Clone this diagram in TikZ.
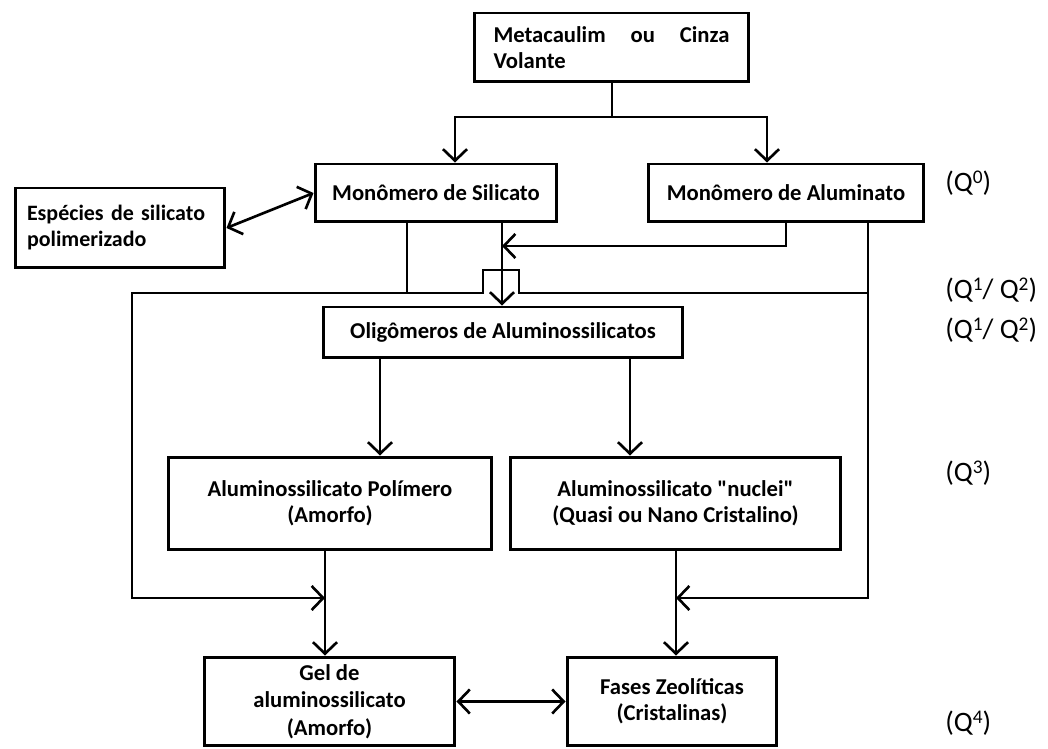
\documentclass[tikz,border=0pt]{standalone}
\usepackage{fontspec}
\setmainfont{Carlito}[Ligatures=TeXOff]
\usetikzlibrary{arrows.meta}
\newcommand{\qsup}[1]{\raisebox{0.62ex}{\fontsize{11}{11}\selectfont #1}}
\begin{document}
\begin{tikzpicture}[x=0.02cm,y=-0.02cm,
  box/.style={draw, line width=1.7pt, inner sep=0pt, align=center,
    font=\bfseries\fontsize{12.9}{14.8}\selectfont},
  link/.style={line width=1.5pt},
  tip/.tip={Straight Barb[length=2.3mm,width=4.8mm]},
  arr/.style={link, -tip},
  darr/.style={link, tip-tip},
  qlab/.style={anchor=west, inner sep=0pt, font=\fontsize{16}{18}\selectfont}]
\useasboundingbox (0,0) rectangle (1048,749);

% boxes
\node[box, minimum width=5.5cm, minimum height=1.38cm, text width=4.72cm, align=left]
  (meta) at (611.5,47.5) {\hbox to 4.72cm{Metacaulim\hfill ou\hfill Cinza}\\Volante};
\node[box, minimum width=4.84cm, minimum height=1.16cm] (sil) at (436,193) {Monômero de Silicato};
\node[box, minimum width=5.52cm, minimum height=1.16cm] (alu) at (786,193) {Monômero de Aluminato};
\node[box, minimum width=4.2cm, minimum height=1.6cm, text width=3.72cm, align=left,
  font=\bfseries\fontsize{12.5}{14.8}\selectfont]
  (esp) at (120,228) {\hbox{Espécies de silicato}\\polimerizado};
\node[box, minimum width=7.2cm, minimum height=1.02cm] (oli) at (503,332.5) {Oligômeros de Aluminossilicatos};
\node[box, minimum width=6.48cm, minimum height=1.86cm] (pol) at (330,503.5) {Aluminossilicato Polímero\\(Amorfo)};
\node[box, minimum width=6.62cm, minimum height=1.86cm] (nuc) at (675.5,503.5) {Aluminossilicato "nuclei"\\(Quasi ou Nano Cristalino)};
\node[box, minimum width=5.02cm, minimum height=1.78cm, font=\bfseries\fontsize{12.9}{15.6}\selectfont] (gel) at (329.5,701.5) {Gel de\\aluminossilicato\\(Amorfo)};
\node[box, minimum width=4.2cm, minimum height=1.78cm] (fas) at (672,701.5) {Fases Zeolíticas\\(Cristalinas)};

% Q labels
\node[qlab] (q0) at (945,183) {(Q\qsup{0})};
\node[qlab] (q12a) at (945,290) {(Q\qsup{1}/ Q\qsup{2})};
\node[qlab] (q12b) at (945,330) {(Q\qsup{1}/ Q\qsup{2})};
\node[qlab] (q3) at (945,473) {(Q\qsup{3})};
\node[qlab] (q4) at (945,723) {(Q\qsup{4})};

% junction coordinates
\coordinate (j1) at (612,117);
\coordinate (j1l) at (455,117);
\coordinate (j1r) at (767,117);
\coordinate (s1) at (407,293);
\coordinate (L1) at (132,293);
\coordinate (L2) at (132,598);
\coordinate (pg) at (325,598);
\coordinate (b1) at (483,293);
\coordinate (b2) at (483,270);
\coordinate (b3) at (519,270);
\coordinate (b4) at (519,293);
\coordinate (R1) at (868,293);
\coordinate (R2) at (868,598);
\coordinate (nf) at (676,598);
\coordinate (m1) at (502,246);
\coordinate (a1) at (786,246);
\coordinate (o1) at (380,400);
\coordinate (o2) at (630,400);

% connectors
\draw[link] (meta.south -| j1) -- (j1);
\draw[arr] (j1) -- (j1l) -- (sil.north -| j1l);
\draw[arr] (j1) -- (j1r) -- (alu.north -| j1r);
\draw[darr] (esp.east) -- (sil.west);
\draw[arr] (sil.south -| m1) -- (oli.north -| m1);
\draw[arr] (alu.south -| a1) -- (a1) -- (m1);
\draw[link] (sil.south -| s1) -- (s1);
\draw[arr] (s1) -- (L1) -- (L2) -- (pg);
\draw[link] (s1) -- (b1) -- (b2) -- (b3) -- (b4) -- (R1);
\draw[arr] (alu.south -| R1) -- (R2) -- (nf);
\draw[arr] (oli.south -| o1) -- (pol.north -| o1);
\draw[arr] (oli.south -| o2) -- (nuc.north -| o2);
\draw[arr] (pol.south -| pg) -- (gel.north -| pg);
\draw[arr] (nuc.south -| nf) -- (fas.north -| nf);
\draw[darr] (gel.east) -- (fas.west);
\end{tikzpicture}
\end{document}
